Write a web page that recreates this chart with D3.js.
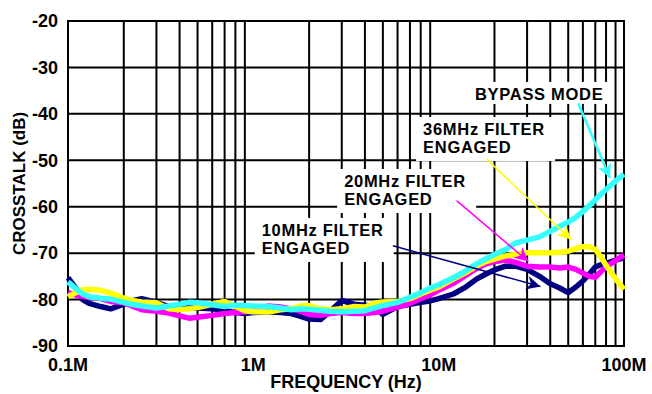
<!DOCTYPE html>
<html>
<head>
<meta charset="utf-8">
<script src="https://cdn.jsdelivr.net/npm/d3@7"></script>
<style>
  body { margin: 0; background: #fff; }
  text { font-family: "Liberation Sans", Arial, Helvetica, sans-serif; font-weight: bold; }
</style>
</head>
<body>
<svg width="652" height="394"></svg>
<script>

// frequency points (MHz)
var freq = [0.1, 0.11, 0.12, 0.13, 0.15, 0.17, 0.2, 0.22, 0.25, 0.3, 0.35, 0.4, 0.45, 0.5, 0.6, 0.7, 0.8, 0.9,
  1, 1.2, 1.4, 1.6, 1.8, 2, 2.3, 2.6, 3, 3.5, 4, 4.5, 5, 6, 7, 8, 9,
  10, 12, 14, 16, 18, 20, 23, 26, 30, 35, 40, 45, 50, 55, 60, 65, 70, 75, 80, 90, 100];

// crosstalk (dB)
var bypass = [-76.2, -77.6, -78.8, -79.4, -79.7, -79.9, -80.6, -81, -81.4, -81.8, -81.4, -81, -80.6, -80.7, -81.1, -81.5, -81.2, -81.3,
  -81.4, -81.5, -81.8, -82.2, -82, -82.1, -82.3, -82.5, -82.6, -82.5, -82.4, -81.8, -81.3, -80.6, -79.5, -78.5, -77.5,
  -76.8, -75.3, -73.8, -72.3, -71.2, -70.3, -69.2, -67.8, -67.2, -66.5, -65.3, -64.2, -63.3, -62.3, -61, -59.8, -58.5, -57.3, -56.3, -54.5, -53];

var filter36 = [-79.4, -78.5, -77.9, -77.8, -78, -78.6, -79.7, -80.2, -80.5, -80.7, -82, -82.2, -82, -81.7, -81, -80.4, -81.5, -82.4,
  -82.6, -82.7, -82.2, -82, -81.4, -81.3, -82, -82.2, -82, -81.5, -81.6, -80.8, -80.5, -80.4, -79.8, -78.8, -78,
  -77.3, -75.6, -74.2, -72.8, -71.8, -71.3, -70.6, -70.3, -69.9, -69.9, -69.9, -69.8, -69.6, -69, -68.6, -68.6, -69.2, -70.8, -72.6, -75.5, -77.8];

var filter20 = [-78.5, -79, -79.3, -79.5, -79.8, -80.4, -80.7, -81.3, -82.2, -82.5, -82.9, -83.5, -84, -83.8, -83.4, -83, -82.8, -82.6,
  -82.5, -81.4, -81.6, -82, -82.5, -83.2, -83.4, -83, -82.8, -83, -83, -82.8, -82.5, -81.6, -80.8, -79.8, -79,
  -78, -76.5, -74.8, -73.3, -72.3, -71.8, -71.5, -72, -72.8, -73, -73, -73.2, -73, -73.5, -74.3, -75, -75.2, -74, -73, -71.6, -70.4];

var filter10 = [-75.3, -77.5, -80, -80.8, -81.5, -82, -81, -80.3, -79.8, -80.6, -81.5, -81.6, -81.8, -81.8, -82, -82.3, -82.8, -83,
  -82.8, -82.6, -82.8, -83, -83.6, -84.2, -84.3, -82.5, -80.2, -81, -81.2, -81.5, -83.2, -81.5, -81, -80.6, -80.3,
  -79.8, -78.8, -77.3, -75.6, -74.5, -73.6, -72.8, -72.8, -73.5, -75, -76.6, -77.5, -78.5, -77.3, -76, -74.5, -73, -72.5, -72.2, -71.5, -71];

var yTicks = [-20, -30, -40, -50, -60, -70, -80, -90];
var xTicks = [0.1, 1, 10, 100];
var xTickLabels = ["0.1M", "1M", "10M", "100M"];

// labels: text lines, text position (MHz, dB), arrow from/to (MHz, dB)
var labels = [
  {key: "bypass", lines: ["BYPASS MODE"], at: [15.7, -37.0], from: [56.6, -37.7], to: [84, -53.8]},
  {key: "filter36", lines: ["36MHz FILTER", "ENGAGED"], at: [8.24, -44.55], from: [18.1, -49.7], to: [51.9, -67.1]},
  {key: "filter20", lines: ["20MHz FILTER", "ENGAGED"], at: [3.09, -55.75], from: [12.5, -58.7], to: [30.5, -71.8]},
  {key: "filter10", lines: ["10MHz FILTER", "ENGAGED"], at: [1.11, -66.3], from: [5.66, -68.4], to: [35.4, -77.2]}
];

var svg = d3.select("svg"),
    margin = {top: 21, right: 28, bottom: 48, left: 68},
    width = +svg.attr("width") - margin.left - margin.right,
    height = +svg.attr("height") - margin.top - margin.bottom,
    g = svg.append("g").attr("transform", "translate(" + margin.left + "," + margin.top + ")");

var x = d3.scaleLog().domain([0.1, 100]).range([0, width]);
var y = d3.scaleLinear().domain([-90, -20]).range([height, 0]);

var colors = {bypass: "#33ffff", filter36: "#ffff00", filter20: "#ff00ff", filter10: "#000080"};

// grid
var minor = [];
[0.1, 1, 10].forEach(function(d) {
  for (var i = 2; i <= 9; i++) minor.push(d * i);
});

g.append("g").selectAll("line")
  .data(minor)
  .enter().append("line")
    .attr("x1", function(d) { return x(d); })
    .attr("x2", function(d) { return x(d); })
    .attr("y1", 0)
    .attr("y2", height)
    .attr("stroke", "#000")
    .attr("stroke-width", 2);

g.append("g").selectAll("line")
  .data(yTicks)
  .enter().append("line")
    .attr("x1", 0)
    .attr("x2", width)
    .attr("y1", function(d) { return y(d); })
    .attr("y2", function(d) { return y(d); })
    .attr("stroke", "#000")
    .attr("stroke-width", 2);

g.append("rect")
  .attr("width", width)
  .attr("height", height)
  .attr("fill", "none")
  .attr("stroke", "#000")
  .attr("stroke-width", 2);

// tick labels
g.append("g").selectAll("text")
  .data(yTicks)
  .enter().append("text")
    .attr("x", -10)
    .attr("y", function(d) { return y(d); })
    .attr("dy", "0.35em")
    .attr("text-anchor", "end")
    .style("font-size", "18px")
    .text(function(d) { return d; });

g.append("g").selectAll("text")
  .data(xTicks)
  .enter().append("text")
    .attr("x", function(d) { return x(d); })
    .attr("y", height + 25)
    .attr("text-anchor", "middle")
    .style("font-size", "18px")
    .text(function(d, i) { return xTickLabels[i]; });

g.append("text")
  .attr("x", width / 2)
  .attr("y", height + 42)
  .attr("text-anchor", "middle")
  .style("font-size", "18px")
  .text("FREQUENCY (Hz)");

svg.append("text")
  .attr("transform", "translate(25," + (margin.top + height / 2) + ") rotate(-90)")
  .attr("text-anchor", "middle")
  .style("font-size", "17px")
  .text("CROSSTALK (dB)");

// label boxes
var lab = g.append("g").selectAll("g")
  .data(labels)
  .enter().append("g")
    .attr("transform", function(d) { return "translate(" + x(d.at[0]) + "," + y(d.at[1]) + ")"; });

lab.append("rect")
  .attr("x", -7)
  .attr("y", -18)
  .attr("width", function(d) { return d.lines.length > 1 ? 139 : 144; })
  .attr("height", function(d) { return d.lines.length > 1 ? 44 : 22; })
  .attr("fill", "#fff");

lab.selectAll("text")
  .data(function(d) { return d.lines; })
  .enter().append("text")
    .attr("y", function(d, i) { return i * 18.5; })
    .style("font-size", "16.5px")
    .style("letter-spacing", "0.7px")
    .text(function(d) { return d; });

// curves
var line = d3.line()
  .x(function(d) { return x(d[0]); })
  .y(function(d) { return y(d[1]); })
  .curve(d3.curveLinear);

var series = [
  {key: "filter10", values: filter10},
  {key: "filter20", values: filter20},
  {key: "filter36", values: filter36},
  {key: "bypass", values: bypass}
];

g.append("g").selectAll("path")
  .data(series)
  .enter().append("path")
    .attr("d", function(d) { return line(freq.map(function(f, i) { return [f, d.values[i]]; })); })
    .attr("fill", "none")
    .attr("stroke", function(d) { return colors[d.key]; })
    .attr("stroke-width", 5.5)
    .attr("stroke-linejoin", "round");

// arrows
var defs = svg.append("defs");
labels.forEach(function(d) {
  defs.append("marker")
    .attr("id", "head-" + d.key)
    .attr("viewBox", "0 0 10 10")
    .attr("refX", 10)
    .attr("refY", 5)
    .attr("markerUnits", "userSpaceOnUse")
    .attr("markerWidth", 20)
    .attr("markerHeight", 14)
    .attr("orient", "auto")
    .append("path")
      .attr("d", "M0,0L10,5L0,10L3,5Z")
      .attr("fill", colors[d.key]);
});

g.append("g").selectAll("line")
  .data(labels)
  .enter().append("line")
    .attr("x1", function(d) { return x(d.from[0]); })
    .attr("y1", function(d) { return y(d.from[1]); })
    .attr("x2", function(d) { return x(d.to[0]); })
    .attr("y2", function(d) { return y(d.to[1]); })
    .attr("stroke", function(d) { return colors[d.key]; })
    .attr("stroke-width", function(d) { return d.key == "bypass" ? 2.5 : 1.5; })
    .attr("marker-end", function(d) { return "url(#head-" + d.key + ")"; });

</script>
</body>
</html>
